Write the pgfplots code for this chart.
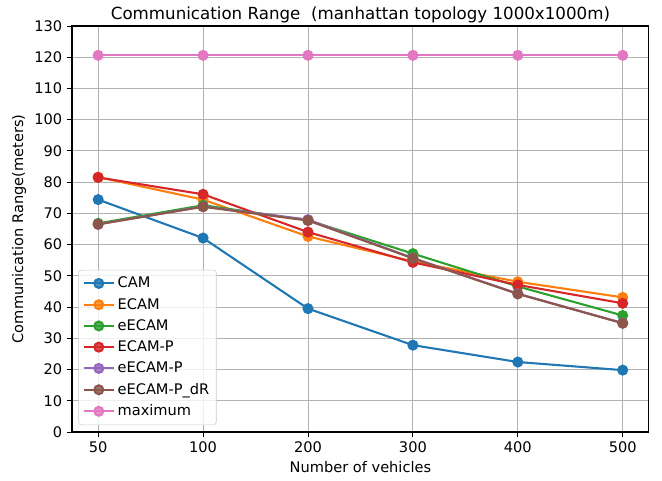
\documentclass[border=0pt]{standalone}
\usepackage{pgfplots}
\pgfplotsset{compat=1.18}
\usepackage{fontspec}
\setmainfont{DejaVu Sans}
\definecolor{c0}{HTML}{1F77B4}
\definecolor{c1}{HTML}{FF7F0E}
\definecolor{c2}{HTML}{2CA02C}
\definecolor{c3}{HTML}{D62728}
\definecolor{c4}{HTML}{9467BD}
\definecolor{c5}{HTML}{8C564B}
\definecolor{c6}{HTML}{E377C2}
\begin{document}
\begin{tikzpicture}
\path[use as bounding box] (-51.8pt,-34.6pt) rectangle (424.8pt,311pt);
\begin{axis}[
  at={(0,0)}, anchor=south west,
  scale only axis,
  width=415.4pt, height=292.3pt,
  xmin=-0.25, xmax=5.25,
  ymin=0, ymax=130,
  xtick={0,1,2,3,4,5},
  xticklabels={50,100,200,300,400,500},
  ytick={0,10,...,130},
  tick align=outside,
  tick pos=left,
  major tick length=3.5pt,
  every tick/.style={black, line width=0.6pt},
  axis line style={black, line width=0.8pt},
  grid=major,
  grid style={color=black!30, line width=0.7pt},
  /pgf/number format/assume math mode=true,
  tick label style={font=\fontsize{10.5}{12}\selectfont},
  label style={font=\fontsize{10.5}{12}\selectfont},
  title style={font=\fontsize{12}{14}\selectfont, yshift=-7.5pt},
  title={Communication Range~ (manhattan topology 1000x1000m)},
  xlabel={Number of vehicles},
  ylabel={Communication Range(meters)},
  xlabel style={yshift=1pt},
  ylabel style={yshift=-1pt},
  every axis plot/.append style={line width=1.5pt, mark=*, mark size=3.2pt},
  legend style={at={(rel axis cs:0.011,0.017)}, anchor=south west,
    font=\fontsize{10.5}{12}\selectfont, draw=black!20, rounded corners=2pt,
    fill=white, fill opacity=0.8, text opacity=1, row sep=2pt,
    inner xsep=3pt, inner ysep=3pt},
  legend cell align=left,
  legend image code/.code={
    \draw[mark repeat=2,mark phase=2] plot coordinates {(0cm,0cm) (0.38cm,0cm) (0.76cm,0cm)};
  },
]
\addplot[color=c0] coordinates {(0,74.4) (1,62.1) (2,39.5) (3,27.8) (4,22.4) (5,19.8)};
\addlegendentry{CAM}
\addplot[color=c1] coordinates {(0,81.6) (1,74.4) (2,62.6) (3,54.6) (4,48.1) (5,43.1)};
\addlegendentry{ECAM}
\addplot[color=c2] coordinates {(0,66.8) (1,72.6) (2,67.8) (3,57.1) (4,46.6) (5,37.3)};
\addlegendentry{eECAM}
\addplot[color=c3] coordinates {(0,81.5) (1,76.1) (2,64.0) (3,54.3) (4,47.1) (5,41.2)};
\addlegendentry{ECAM-P}
\addplot[color=c4] coordinates {(0,66.5) (1,72.2) (2,68.0) (3,55.7) (4,44.3) (5,34.9)};
\addlegendentry{eECAM-P}
\addplot[color=c5] coordinates {(0,66.5) (1,72.1) (2,67.7) (3,55.6) (4,44.2) (5,34.8)};
\addlegendentry{eECAM-P\_dR}
\addplot[color=c6] coordinates {(0,120.6) (1,120.6) (2,120.6) (3,120.6) (4,120.6) (5,120.6)};
\addlegendentry{maximum}
\end{axis}
\end{tikzpicture}
\end{document}
